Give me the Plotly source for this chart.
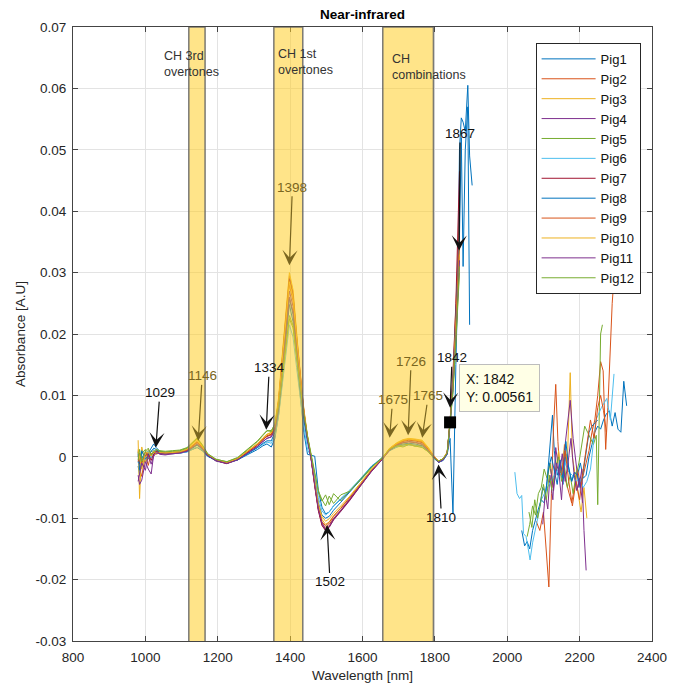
import plotly.graph_objects as go

# ---------------- data ----------------
wl_main = [980, 984, 990, 1000, 1008, 1016, 1023, 1030, 1040, 1055, 1075, 1095, 1115, 1130, 1143,
           1157, 1172, 1195, 1225, 1255, 1285, 1310, 1325, 1336, 1348, 1358, 1368, 1378, 1388, 1398,
           1408, 1418, 1428, 1438, 1448, 1458, 1468, 1478, 1488, 1498, 1508, 1520, 1540, 1565, 1595,
           1625, 1655, 1675, 1695, 1712, 1728, 1745, 1765, 1782, 1797, 1810, 1823, 1834, 1842, 1850,
           1858, 1864, 1868]

pig1 = [-0.0015, -0.0030, 0.0002, -0.0010, 0.0006, 0.0014, 0.0021, 0.0015, 0.0009, 0.0006, 0.0005, 0.0006, 0.0008, 0.0012, 0.0015,
        0.0010, 0.0001, -0.0005, -0.0009, -0.0005, 0.0004, 0.0012, 0.0018, 0.0021, 0.0016, 0.0030, 0.0068, 0.0122, 0.0190, 0.0248,
        0.0220, 0.0160, 0.0095, 0.0040, 0.0004, 0.0002, 0.0001, -0.0055, -0.0082, -0.0093, -0.0090, -0.0080, -0.0070, -0.0056, -0.0036,
        -0.0016, -0.0002, 0.0010, 0.0016, 0.0019, 0.0020, 0.0019, 0.0016, 0.0008, -0.0002, -0.0009, -0.0006, 0.0004, 0.0030, -0.0093,
        0.0150, 0.0300, 0.0500]
pig2 = [0.0010, -0.0020, -0.0032, 0.0004, -0.0014, 0.0006, 0.0002, 0.0010, 0.0007, 0.0005, 0.0007, 0.0008, 0.0011, 0.0018, 0.0025,
        0.0016, 0.0003, -0.0006, -0.0011, -0.0004, 0.0009, 0.0020, 0.0029, 0.0034, 0.0037, 0.0050, 0.0092, 0.0155, 0.0228, 0.0295,
        0.0268, 0.0198, 0.0130, 0.0075, 0.0032, -0.0002, -0.0045, -0.0085, -0.0108, -0.0115, -0.0110, -0.0100, -0.0088, -0.0070, -0.0047,
        -0.0023, -0.0003, 0.0013, 0.0022, 0.0027, 0.0029, 0.0028, 0.0025, 0.0014, 0.0001, -0.0008, -0.0004, 0.0007, 0.0058, 0.0130,
        0.0230, 0.0330, 0.0400]
pig3 = [0.0027, -0.0068, 0.0016, -0.0010, 0.0012, 0.0002, 0.0009, 0.0005, 0.0008, 0.0006, 0.0008, 0.0009, 0.0013, 0.0021, 0.0029,
        0.0018, 0.0004, -0.0005, -0.0010, -0.0003, 0.0010, 0.0022, 0.0031, 0.0037, 0.0040, 0.0054, 0.0096, 0.0160, 0.0235, 0.0300,
        0.0272, 0.0202, 0.0133, 0.0078, 0.0034, 0.0001, -0.0042, -0.0080, -0.0102, -0.0110, -0.0106, -0.0096, -0.0083, -0.0066, -0.0044,
        -0.0021, -0.0002, 0.0014, 0.0023, 0.0028, 0.0030, 0.0029, 0.0027, 0.0015, 0.0002, -0.0007, -0.0003, 0.0008, 0.0056, 0.0118,
        0.0205, 0.0285, 0.0340]
pig4 = [-0.0030, -0.0045, -0.0038, -0.0008, -0.0020, -0.0028, 0.0004, 0.0008, 0.0004, 0.0003, 0.0005, 0.0006, 0.0009, 0.0015, 0.0020,
        0.0013, 0.0002, -0.0007, -0.0011, -0.0005, 0.0007, 0.0017, 0.0025, 0.0030, 0.0033, 0.0046, 0.0083, 0.0140, 0.0208, 0.0270,
        0.0245, 0.0182, 0.0120, 0.0070, 0.0030, -0.0003, -0.0046, -0.0086, -0.0110, -0.0120, -0.0115, -0.0103, -0.0089, -0.0071, -0.0047,
        -0.0024, -0.0004, 0.0011, 0.0019, 0.0023, 0.0025, 0.0024, 0.0021, 0.0011, -0.0001, -0.0009, -0.0005, 0.0005, 0.0054, 0.0115,
        0.0200, 0.0275, 0.0330]
pig5 = [0.0008, -0.0010, 0.0005, 0.0012, -0.0004, 0.0010, 0.0006, 0.0011, 0.0009, 0.0008, 0.0009, 0.0010, 0.0014, 0.0022, 0.0030,
        0.0019, 0.0005, -0.0004, -0.0008, -0.0002, 0.0012, 0.0025, 0.0035, 0.0042, 0.0043, 0.0052, 0.0080, 0.0122, 0.0175, 0.0225,
        0.0210, 0.0160, 0.0108, 0.0066, 0.0032, 0.0004, -0.0030, -0.0058, -0.0072, -0.0062, -0.0078, -0.0060, -0.0072, -0.0055, -0.0038,
        -0.0018, -0.0001, 0.0012, 0.0017, 0.0019, 0.0021, 0.0017, 0.0019, 0.0009, -0.0001, -0.0007, -0.0003, 0.0006, 0.0052, 0.0105,
        0.0185, 0.0250, 0.0300]
pig6 = [-0.0010, 0.0004, -0.0016, 0.0003, 0.0010, -0.0002, 0.0012, 0.0007, 0.0006, 0.0005, 0.0006, 0.0006, 0.0008, 0.0012, 0.0016,
        0.0011, 0.0001, -0.0005, -0.0009, -0.0004, 0.0006, 0.0014, 0.0020, 0.0024, 0.0022, 0.0034, 0.0066, 0.0112, 0.0165, 0.0215,
        0.0195, 0.0145, 0.0092, 0.0048, 0.0012, 0.0000, -0.0030, -0.0066, -0.0088, -0.0095, -0.0090, -0.0080, -0.0068, -0.0054, -0.0035,
        -0.0015, -0.0001, 0.0011, 0.0016, 0.0018, 0.0019, 0.0018, 0.0016, 0.0008, -0.0002, -0.0008, -0.0005, 0.0004, 0.0050, 0.0110,
        0.0195, 0.0265, 0.0320]
pig7 = [0.0002, -0.0012, -0.0006, 0.0002, 0.0005, -0.0006, 0.0005, 0.0009, 0.0006, 0.0005, 0.0006, 0.0007, 0.0010, 0.0017, 0.0023,
        0.0015, 0.0002, -0.0006, -0.0011, -0.0004, 0.0008, 0.0019, 0.0028, 0.0033, 0.0036, 0.0049, 0.0090, 0.0152, 0.0224, 0.0290,
        0.0263, 0.0195, 0.0127, 0.0073, 0.0030, -0.0004, -0.0048, -0.0088, -0.0112, -0.0120, -0.0114, -0.0102, -0.0088, -0.0070, -0.0046,
        -0.0023, -0.0004, 0.0012, 0.0020, 0.0025, 0.0027, 0.0026, 0.0023, 0.0012, 0.0000, -0.0008, -0.0004, 0.0006, 0.0057, 0.0135,
        0.0250, 0.0380, 0.0465]
pig8 = [0.0005, -0.0022, 0.0010, -0.0004, 0.0002, 0.0009, 0.0014, 0.0012, 0.0007, 0.0005, 0.0006, 0.0007, 0.0009, 0.0014, 0.0019,
        0.0012, 0.0001, -0.0006, -0.0010, -0.0005, 0.0006, 0.0015, 0.0022, 0.0026, 0.0026, 0.0040, 0.0076, 0.0130, 0.0198, 0.0258,
        0.0232, 0.0170, 0.0108, 0.0060, 0.0024, -0.0002, -0.0040, -0.0075, -0.0095, -0.0100, -0.0097, -0.0087, -0.0074, -0.0058, -0.0037,
        -0.0016, -0.0002, 0.0011, 0.0018, 0.0021, 0.0022, 0.0021, 0.0018, 0.0009, -0.0002, -0.0009, -0.0005, 0.0005, 0.0055, 0.0125,
        0.0230, 0.0330, 0.0360]
pig9 = [-0.0008, 0.0006, -0.0012, 0.0008, 0.0000, 0.0004, 0.0007, 0.0006, 0.0006, 0.0005, 0.0006, 0.0007, 0.0010, 0.0017, 0.0024,
        0.0015, 0.0003, -0.0005, -0.0010, -0.0003, 0.0009, 0.0020, 0.0028, 0.0034, 0.0036, 0.0048, 0.0088, 0.0146, 0.0216, 0.0280,
        0.0254, 0.0189, 0.0124, 0.0072, 0.0031, -0.0002, -0.0044, -0.0083, -0.0106, -0.0112, -0.0107, -0.0097, -0.0084, -0.0067, -0.0045,
        -0.0022, -0.0003, 0.0013, 0.0021, 0.0026, 0.0028, 0.0027, 0.0024, 0.0013, 0.0001, -0.0007, -0.0003, 0.0007, 0.0057, 0.0122,
        0.0215, 0.0300, 0.0350]
pig10 = [0.0012, 0.0000, -0.0020, 0.0006, 0.0008, 0.0001, 0.0010, 0.0004, 0.0007, 0.0006, 0.0007, 0.0008, 0.0012, 0.0019, 0.0027,
         0.0017, 0.0004, -0.0005, -0.0009, -0.0003, 0.0010, 0.0021, 0.0030, 0.0036, 0.0039, 0.0051, 0.0091, 0.0152, 0.0222, 0.0285,
         0.0260, 0.0193, 0.0127, 0.0075, 0.0033, 0.0001, -0.0040, -0.0076, -0.0097, -0.0105, -0.0101, -0.0092, -0.0080, -0.0064, -0.0042,
         -0.0020, -0.0002, 0.0014, 0.0022, 0.0027, 0.0029, 0.0028, 0.0026, 0.0014, 0.0001, -0.0007, -0.0003, 0.0007, 0.0055, 0.0116,
         0.0200, 0.0280, 0.0330]
pig11 = [-0.0040, -0.0025, -0.0010, -0.0022, 0.0003, -0.0012, 0.0001, 0.0006, 0.0005, 0.0004, 0.0005, 0.0006, 0.0009, 0.0015, 0.0021,
         0.0014, 0.0002, -0.0006, -0.0011, -0.0005, 0.0007, 0.0017, 0.0025, 0.0030, 0.0032, 0.0044, 0.0080, 0.0135, 0.0200, 0.0260,
         0.0236, 0.0175, 0.0115, 0.0067, 0.0028, -0.0003, -0.0045, -0.0085, -0.0108, -0.0118, -0.0113, -0.0101, -0.0087, -0.0069, -0.0046,
         -0.0023, -0.0004, 0.0011, 0.0019, 0.0023, 0.0024, 0.0023, 0.0020, 0.0010, -0.0001, -0.0009, -0.0005, 0.0005, 0.0054, 0.0112,
         0.0195, 0.0270, 0.0320]
pig12 = [-0.0005, 0.0012, -0.0008, 0.0009, 0.0014, 0.0003, 0.0008, 0.0012, 0.0010, 0.0009, 0.0010, 0.0011, 0.0015, 0.0023, 0.0031,
         0.0020, 0.0005, -0.0004, -0.0008, -0.0001, 0.0013, 0.0026, 0.0036, 0.0043, 0.0041, 0.0054, 0.0084, 0.0128, 0.0180, 0.0230,
         0.0214, 0.0163, 0.0110, 0.0068, 0.0034, 0.0005, -0.0028, -0.0055, -0.0070, -0.0080, -0.0064, -0.0076, -0.0062, -0.0056, -0.0036,
         -0.0017, -0.0001, 0.0013, 0.0018, 0.0016, 0.0020, 0.0018, 0.0015, 0.0008, -0.0002, -0.0007, -0.0003, 0.0006, 0.0052, 0.0108,
         0.0190, 0.0260, 0.0310]

# high-wavelength tail just after the 1867 peak
tail_wl = [1873, 1878, 1884, 1891, 1896, 1903]
pig1_tail = [0.0552, 0.0545, 0.0530, 0.0605, 0.0490, 0.0442]
pig8_tail = [0.0520, 0.0310, 0.0500, 0.0570, 0.0215, None]

# noisy far region (2020-2335 nm)
pig1_far_wl = [2040, 2048, 2055, 2062, 2070, 2078, 2086, 2094, 2102, 2110, 2118, 2125, 2130, 2138, 2146, 2154, 2162,
               2170, 2178, 2186, 2194, 2202, 2210, 2218, 2226, 2234, 2242, 2250, 2258, 2266, 2274, 2282, 2290,
               2298, 2306, 2314, 2322, 2330]
pig1_far = [-0.0120, -0.0145, -0.0138, -0.0150, -0.0120, -0.0100, -0.0085, -0.0070, -0.0075, -0.0040, 0.0020, 0.0068,
            0.0010, -0.0030, -0.0015, -0.0045, 0.0005, -0.0020, -0.0040, -0.0025, -0.0030, -0.0010, -0.0035, -0.0030,
            0.0000, 0.0020, 0.0040, 0.0050, 0.0045, 0.0060, 0.0070, 0.0075, 0.0050, 0.0072, 0.0045, 0.0040, 0.0123, 0.0083]
pig2_far_wl = [2080, 2090, 2100, 2108, 2115, 2122, 2128, 2134, 2140, 2146, 2154, 2162, 2170, 2178, 2186, 2194, 2202,
               2210, 2218, 2226, 2234, 2242, 2250, 2258, 2265, 2272, 2278, 2284, 2290, 2296]
pig2_far = [-0.0105, -0.0120, -0.0090, -0.0150, -0.0212, -0.0060, 0.0050, 0.0118, 0.0025, -0.0030, -0.0010, -0.0040,
            -0.0060, -0.0075, -0.0050, -0.0020, -0.0045, -0.0030, -0.0010, 0.0010, 0.0040, 0.0060, 0.0100, 0.0155,
            0.0140, 0.0012, 0.0080, 0.0180, 0.0250, 0.0300]
pig3_far_wl = [2110, 2118, 2126, 2134, 2142, 2150, 2158, 2166, 2174, 2180, 2188, 2196, 2204, 2212, 2220]
pig3_far = [-0.0040, -0.0010, -0.0050, -0.0020, 0.0010, -0.0030, 0.0020, -0.0010, 0.0137, 0.0000, -0.0030, -0.0060,
            -0.0090, -0.0050, -0.0100]
pig4_far_wl = [2098, 2105, 2112, 2118, 2126, 2134, 2142, 2150, 2158, 2166, 2174, 2182, 2190, 2198, 2206, 2212, 2218]
pig4_far = [-0.0110, -0.0060, -0.0085, -0.0030, -0.0070, 0.0015, -0.0020, -0.0070, 0.0010, 0.0050, 0.0092, 0.0030,
            -0.0010, -0.0050, -0.0020, -0.0120, -0.0185]
pig5_far_wl = [2055, 2062, 2070, 2078, 2086, 2094, 2102, 2110, 2118, 2126, 2134, 2142, 2150, 2158, 2166, 2174, 2182,
               2190, 2198, 2206, 2214, 2222, 2230, 2238, 2246, 2250, 2254, 2258, 2263]
pig5_far = [-0.0130, -0.0110, -0.0080, -0.0095, -0.0060, -0.0050, -0.0020, -0.0035, -0.0010, -0.0045, -0.0020, 0.0000,
            -0.0040, -0.0015, -0.0050, -0.0030, -0.0060, -0.0030, -0.0010, 0.0020, 0.0050, 0.0040, 0.0030, 0.0020,
            0.0035, -0.0078, 0.0060, 0.0200, 0.0215]
pig6_far_wl = [2021, 2027, 2034, 2040, 2045, 2052, 2058, 2063, 2070, 2078, 2086, 2094, 2102, 2110, 2120, 2130, 2140,
               2150, 2160, 2170, 2180, 2190, 2200, 2210, 2220, 2230, 2245, 2260, 2275, 2285, 2295]
pig6_far = [-0.0025, -0.0060, -0.0068, -0.0063, -0.0125, -0.0130, -0.0150, -0.0168, -0.0140, -0.0120, -0.0095, -0.0070,
            -0.0060, -0.0050, -0.0040, -0.0030, -0.0022, -0.0030, -0.0010, -0.0025, -0.0030, -0.0040, -0.0035, -0.0050,
            -0.0040, -0.0020, 0.0060, 0.0080, 0.0095, 0.0060, 0.0135]
pig8_far_wl = [2090, 2098, 2106, 2114, 2122, 2130, 2138, 2146, 2154, 2162, 2170, 2178, 2186, 2194, 2202, 2210, 2218,
               2226, 2234, 2242, 2250]
pig8_far = [-0.0080, -0.0050, -0.0060, -0.0020, 0.0000, -0.0025, -0.0045, -0.0005, -0.0035, 0.0025, -0.0020, -0.0040,
            -0.0025, -0.0030, -0.0050, -0.0025, 0.0010, 0.0040, 0.0050, 0.0055, 0.0060]
pig9_far_wl = [2150, 2160, 2170, 2180, 2190, 2200, 2210, 2220, 2230, 2240, 2250, 2258, 2266, 2274]
pig9_far = [-0.0030, 0.0010, -0.0040, -0.0080, -0.0040, -0.0070, -0.0020, 0.0020, 0.0060, 0.0030, 0.0080, 0.0100,
            0.0075, 0.0040]
pig11_far_wl = [2120, 2128, 2136, 2144, 2152, 2160, 2168, 2176, 2184, 2192, 2200, 2208]
pig11_far = [-0.0020, -0.0055, -0.0010, -0.0030, 0.0005, -0.0040, -0.0010, 0.0030, -0.0025, -0.0055, -0.0035, -0.0075]
pig12_far_wl = [2060, 2068, 2076, 2084, 2092, 2100, 2108, 2116, 2124]
pig12_far = [-0.0090, -0.0115, -0.0070, -0.0100, -0.0075, -0.0045, -0.0070, -0.0030, -0.0055]

series_names = ["Pig1", "Pig2", "Pig3", "Pig4", "Pig5", "Pig6", "Pig7", "Pig8", "Pig9", "Pig10", "Pig11", "Pig12"]

# shaded bands (nm)
band_start = [1120, 1355, 1656]
band_end = [1165, 1435, 1796]
band_labels = ["CH 3rd<br>overtones", "CH 1st<br>overtones", "CH<br>combinations"]
band_label_x = [1045, 1361, 1677]
band_label_y = [0.0667, 0.0670, 0.0662]

# annotated peaks
peak_nm = [1029, 1146, 1334, 1398, 1502, 1675, 1726, 1765, 1810, 1842, 1867]
peak_abs = [0.0015, 0.0026, 0.0044, 0.0312, -0.0111, 0.0031, 0.0035, 0.0031, -0.00125, 0.0080, 0.0336]
peak_labels = ["1029", "1146", "1334", "1398", "1502", "1675", "1726", "1765", "1810", "1842", "1867"]

datatip_x = 1842
datatip_y = 0.00561

x_ticks = [800, 1000, 1200, 1400, 1600, 1800, 2000, 2200, 2400]
y_ticks = [-0.03, -0.02, -0.01, 0, 0.01, 0.02, 0.03, 0.04, 0.05, 0.06, 0.07]
y_tick_text = ["-0.03", "-0.02", "-0.01", "0", "0.01", "0.02", "0.03", "0.04", "0.05", "0.06", "0.07"]

# ---------------- styling ----------------
colors = ["#0072BD", "#D95319", "#EDB120", "#7E2F8E", "#77AC30", "#4DBEEE", "#A2142F",
          "#0072BD", "#D95319", "#EDB120", "#7E2F8E", "#77AC30"]
FONT = "Liberation Sans, Arial, Helvetica, sans-serif"
OLIVE = "#7a6620"

main_series = [pig1, pig2, pig3, pig4, pig5, pig6, pig7, pig8, pig9, pig10, pig11, pig12]
tails = {0: pig1_tail, 7: pig8_tail}
fars = {0: (pig1_far_wl, pig1_far), 1: (pig2_far_wl, pig2_far), 2: (pig3_far_wl, pig3_far),
        3: (pig4_far_wl, pig4_far), 4: (pig5_far_wl, pig5_far), 5: (pig6_far_wl, pig6_far),
        7: (pig8_far_wl, pig8_far), 8: (pig9_far_wl, pig9_far), 10: (pig11_far_wl, pig11_far),
        11: (pig12_far_wl, pig12_far)}

fig = go.Figure()
for i, name in enumerate(series_names):
    xs = list(wl_main)
    ys = list(main_series[i])
    if i in tails:
        xs += tail_wl
        ys += tails[i]
    if i in fars:
        xs += [None] + fars[i][0]
        ys += [None] + fars[i][1]
    fig.add_trace(go.Scatter(x=xs, y=ys, mode="lines", name=name, legendgroup=name,
                             line=dict(color=colors[i], width=1), connectgaps=False))

# datatip marker
fig.add_trace(go.Scatter(x=[datatip_x], y=[datatip_y], mode="markers", showlegend=False,
                         marker=dict(symbol="square", size=12, color="black")))

# bands drawn above the lines, semi transparent (as in the original)
for x0, x1 in zip(band_start, band_end):
    fig.add_shape(type="rect", xref="x", yref="y", x0=x0, x1=x1, y0=-0.0305, y1=0.07,
                  fillcolor="rgba(255,205,40,0.55)", line=dict(color="rgba(100,100,100,0.85)", width=1.5),
                  layer="above")

for txt, bx, by in zip(band_labels, band_label_x, band_label_y):
    fig.add_annotation(x=bx, y=by, text=txt, showarrow=False, xanchor="left", yanchor="top",
                       align="left", font=dict(size=12.5, color="#333333", family=FONT))

# peak arrows
offsets = [(4, -55), (4, -65), (3, -62), (3, -78), (3, 57), (3, -38), (3, -74), (6, -42), (3, 53), (2, -50), (1, -117)]
in_band = [False, True, False, True, False, True, True, True, False, False, False]
for nm, ab, lab, (dx, dy), ib in zip(peak_nm, peak_abs, peak_labels, offsets, in_band):
    c = OLIVE if ib else "#111111"
    fig.add_annotation(x=nm, y=ab, text=lab, showarrow=True, ax=dx, ay=dy,
                       arrowhead=3, arrowsize=2.1, arrowwidth=1.2, arrowcolor=c,
                       font=dict(size=13.5, color=c, family=FONT))

# datatip box
fig.add_annotation(x=1866, y=0.0151, text="X: 1842<br>Y: 0.00561", showarrow=False,
                   xanchor="left", yanchor="top", align="left",
                   bgcolor="#FFFFE6", bordercolor="#BDBDBD", borderwidth=1, borderpad=6,
                   font=dict(size=14, color="#111111", family=FONT))

axis_common = dict(showline=True, linecolor="#444444", linewidth=1, mirror="ticks",
                   ticks="inside", ticklen=5, tickcolor="#444444", showgrid=True,
                   gridcolor="#E3E3E3", gridwidth=1, zeroline=False,
                   tickfont=dict(size=13.5, color="#262626", family=FONT))

fig.update_xaxes(range=[800, 2400], tickvals=x_ticks, ticklabelstandoff=4,
                 title=dict(text="Wavelength [nm]", standoff=6, font=dict(size=13.5, color="#262626")),
                 **axis_common)
fig.update_yaxes(range=[-0.03, 0.07], tickvals=y_ticks, ticktext=y_tick_text, ticklabelstandoff=3,
                 title=dict(text="Absorbance [A.U]", standoff=6, font=dict(size=13.5, color="#262626")),
                 **axis_common)

fig.update_layout(
    width=679, height=693,
    margin=dict(l=73, r=19, t=27, b=49),
    plot_bgcolor="white", paper_bgcolor="white",
    font=dict(family=FONT, size=13, color="#262626"),
    title=dict(text="<b>Near-infrared</b>", x=0.5, xref="paper", xanchor="center",
               y=1 - 14 / 693, yref="container", yanchor="middle",
               font=dict(size=13.5, color="#000000")),
    legend=dict(x=(542 - 73) / 587, y=(644 - 43) / 617, xanchor="left", yanchor="top",
                bgcolor="white", bordercolor="#262626", borderwidth=1,
                font=dict(size=13, color="#111111"), tracegroupgap=0, itemwidth=54),
    showlegend=True,
)

fig.write_html("out.html")
